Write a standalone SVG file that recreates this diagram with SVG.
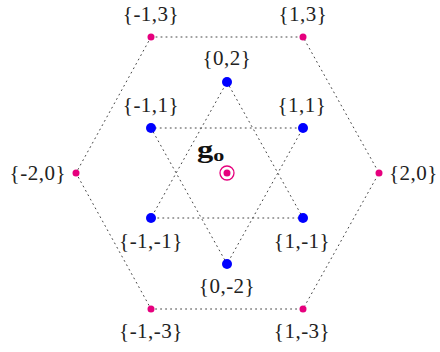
<svg xmlns="http://www.w3.org/2000/svg" width="440" height="352" viewBox="0 0 440 352">
<style>
.lbl{font-family:"Liberation Serif","DejaVu Serif",serif;font-size:21px;letter-spacing:0.5px;fill:#222;text-anchor:middle}
.dot{fill:none;stroke:#444;stroke-width:1;stroke-dasharray:1 4;stroke-linecap:round}
.in{fill:#0000ff}
.out{fill:#e6007e}
</style>
<rect width="440" height="352" fill="#fff"/>
<g id="connectors">
<polygon class="dot" points="151,37 303,37 379,173 303,309 151,309 76,173"/>
<polygon class="dot" points="227,82 303,218 151,218"/>
<polygon class="dot" points="227,264 151,128 303,128"/>
</g>
<g id="n_m1_3"><circle class="out" cx="151" cy="37" r="3.5"/><text class="lbl" x="151" y="21">{-1,3}</text></g>
<g id="n_1_3"><circle class="out" cx="303" cy="37" r="3.5"/><text class="lbl" x="303" y="21">{1,3}</text></g>
<g id="n_m2_0"><circle class="out" cx="76" cy="173" r="3.5"/><text class="lbl" x="66" y="180" style="text-anchor:end">{-2,0}</text></g>
<g id="n_2_0"><circle class="out" cx="379" cy="173" r="3.5"/><text class="lbl" x="389" y="180" style="text-anchor:start">{2,0}</text></g>
<g id="n_m1_m3"><circle class="out" cx="151" cy="309" r="3.5"/><text class="lbl" x="151" y="338">{-1,-3}</text></g>
<g id="n_1_m3"><circle class="out" cx="303" cy="309" r="3.5"/><text class="lbl" x="302" y="338">{1,-3}</text></g>
<g id="n_0_2"><circle class="in" cx="227" cy="82" r="5"/><text class="lbl" x="227" y="65">{0,2}</text></g>
<g id="n_m1_1"><circle class="in" cx="151" cy="128" r="5"/><text class="lbl" x="151" y="112">{-1,1}</text></g>
<g id="n_1_1"><circle class="in" cx="303" cy="128" r="5"/><text class="lbl" x="302" y="112">{1,1}</text></g>
<g id="n_m1_m1"><circle class="in" cx="151" cy="218" r="5"/><text class="lbl" x="151" y="248">{-1,-1}</text></g>
<g id="n_1_m1"><circle class="in" cx="303" cy="218" r="5"/><text class="lbl" x="302" y="248">{1,-1}</text></g>
<g id="n_0_m2"><circle class="in" cx="227" cy="264" r="5"/><text class="lbl" x="227" y="293">{0,-2}</text></g>
<g id="g0">
<circle cx="227" cy="173" r="7" fill="none" stroke="#e6007e" stroke-width="1.3"/>
<circle class="out" cx="227" cy="173" r="3.5"/>
<text transform="translate(197,158) scale(1.3,1)" x="0" y="0" style="font-family:'Liberation Serif','DejaVu Serif',serif;font-weight:bold;font-size:25px;fill:#111">g<tspan dy="3" style="font-size:17px">o</tspan></text>
</g>
</svg>
